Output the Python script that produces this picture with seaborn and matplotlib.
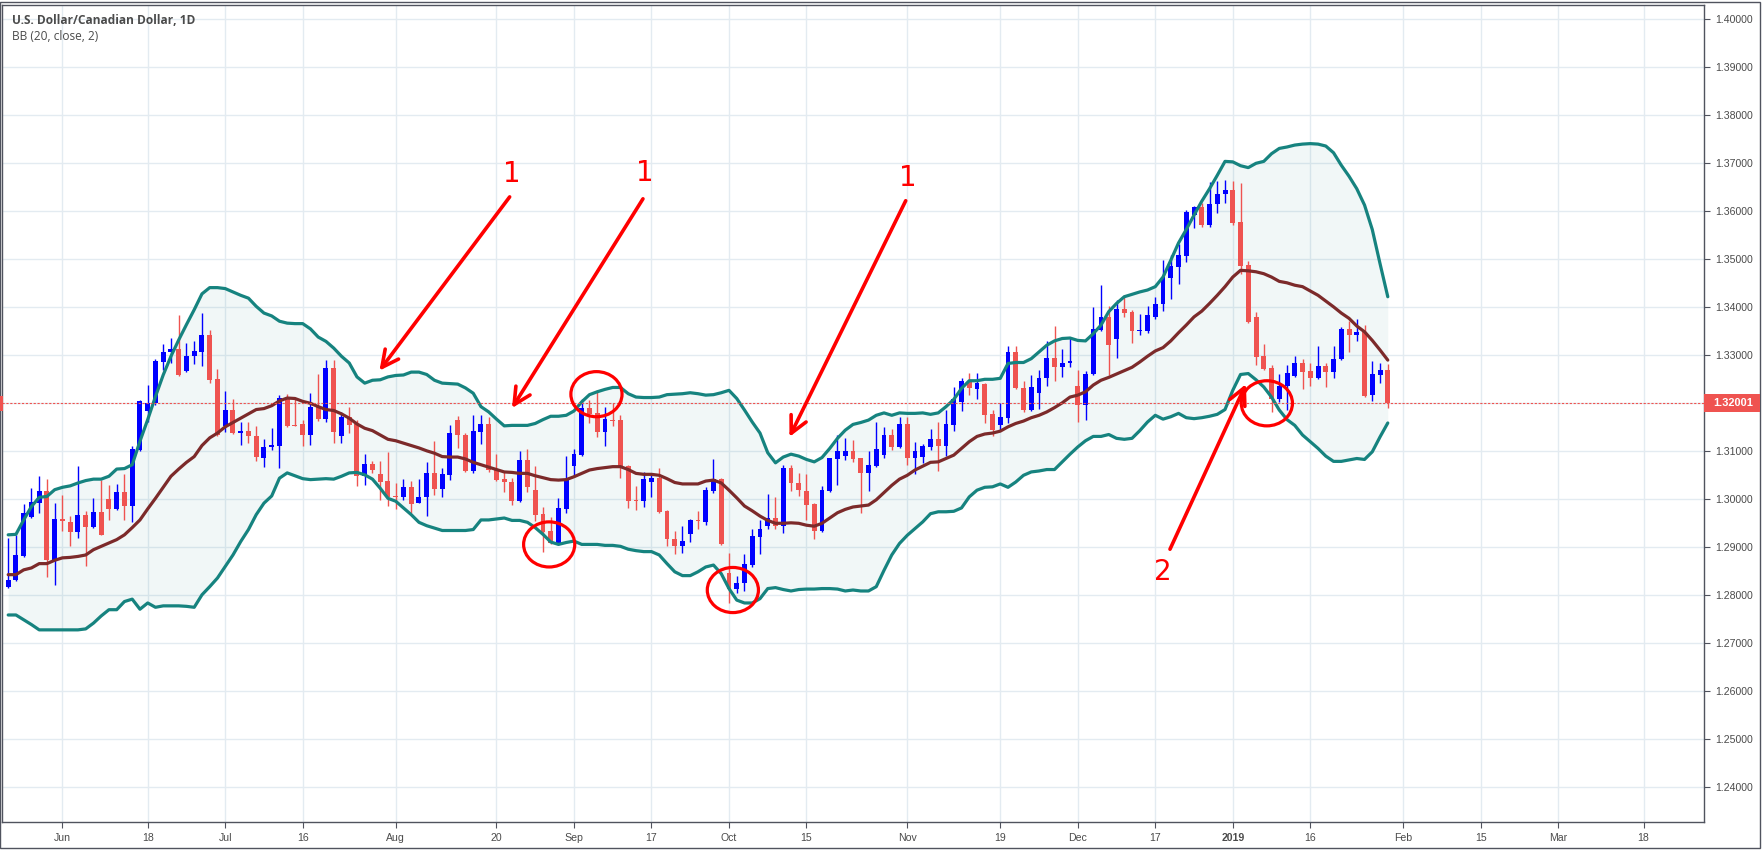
import numpy as np
import pandas as pd
import matplotlib
matplotlib.use("Agg")
import matplotlib.pyplot as plt
from matplotlib.patches import Ellipse, Rectangle
import seaborn as sns

# USD/CAD daily candles, 2018-05-23 .. 2019-01-30
opens = [
    1.2818, 1.2831, 1.2882, 1.2964, 1.2993, 1.3018, 1.2874, 1.2959, 1.2953, 1.2931,
    1.2968, 1.2943, 1.2974, 1.3000, 1.2980, 1.3016, 1.2987, 1.3103, 1.3185, 1.3200,
    1.3287, 1.3306, 1.3313, 1.3268, 1.3298, 1.3307, 1.3343, 1.3251, 1.3152, 1.3187,
    1.3139, 1.3143, 1.3132, 1.3087, 1.3109, 1.3112, 1.3211, 1.3155, 1.3157, 1.3133,
    1.3193, 1.3168, 1.3273, 1.3131, 1.3171, 1.3157, 1.3048, 1.3074, 1.3053, 1.3039,
    1.3007, 1.3005, 1.3025, 1.2993, 1.3004, 1.3055, 1.3022, 1.3051, 1.3166, 1.3134,
    1.3059, 1.3141, 1.3157, 1.3062, 1.3043, 1.3036, 1.2997, 1.3081, 1.3019, 1.2969,
    1.2934, 1.2906, 1.2979, 1.3070, 1.3092, 1.3191, 1.3179, 1.3141, 1.3166, 1.3165,
    1.3069, 1.2999, 1.2997, 1.3036, 1.3045, 1.2975, 1.2918, 1.2903, 1.2927, 1.2957,
    1.2953, 1.3018, 1.3042, 1.2847, 1.2813, 1.2825, 1.2863, 1.2922, 1.2944, 1.2962,
    1.2944, 1.3066, 1.3034, 1.3017, 1.2990, 1.2934, 1.3018, 1.3084, 1.3091, 1.3100,
    1.3085, 1.3055, 1.3070, 1.3093, 1.3134, 1.3109, 1.3157, 1.3086, 1.3088, 1.3109,
    1.3125, 1.3111, 1.3154, 1.3202, 1.3246, 1.3229, 1.3241, 1.3177, 1.3154, 1.3170,
    1.3307, 1.3232, 1.3186, 1.3222, 1.3252, 1.3295, 1.3275, 1.3283, 1.3236, 1.3197,
    1.3261, 1.3352, 1.3380, 1.3333, 1.3397, 1.3390, 1.3351, 1.3351, 1.3379, 1.3406,
    1.3461, 1.3484, 1.3507, 1.3592, 1.3609, 1.3571, 1.3616, 1.3637, 1.3645, 1.3577,
    1.3488, 1.3379, 1.3298, 1.3274, 1.3210, 1.3236, 1.3257, 1.3285, 1.3267, 1.3252,
    1.3277, 1.3266, 1.3292, 1.3354, 1.3343, 1.3349, 1.3218, 1.3260, 1.3269,
]
highs = [
    1.2919, 1.2926, 1.2991, 1.3023, 1.3049, 1.3042, 1.2992, 1.3009, 1.2966, 1.3070,
    1.2976, 1.3002, 1.3041, 1.3030, 1.3032, 1.3053, 1.3112, 1.3207, 1.3239, 1.3293,
    1.3324, 1.3336, 1.3384, 1.3326, 1.3329, 1.3388, 1.3353, 1.3272, 1.3226, 1.3209,
    1.3162, 1.3160, 1.3153, 1.3126, 1.3148, 1.3218, 1.3220, 1.3211, 1.3166, 1.3221,
    1.3262, 1.3291, 1.3291, 1.3181, 1.3192, 1.3166, 1.3095, 1.3080, 1.3080, 1.3098,
    1.3034, 1.3042, 1.3039, 1.3042, 1.3077, 1.3122, 1.3065, 1.3155, 1.3174, 1.3138,
    1.3176, 1.3176, 1.3172, 1.3095, 1.3058, 1.3045, 1.3100, 1.3104, 1.3069, 1.2983,
    1.2963, 1.3003, 1.3090, 1.3104, 1.3208, 1.3206, 1.3227, 1.3193, 1.3200, 1.3175,
    1.3071, 1.3027, 1.3056, 1.3050, 1.3066, 1.2977, 1.2934, 1.2944, 1.2958, 1.2975,
    1.3026, 1.3084, 1.3045, 1.2889, 1.2840, 1.2885, 1.2939, 1.2957, 1.3012, 1.3005,
    1.3071, 1.3072, 1.3054, 1.3052, 1.2992, 1.3027, 1.3087, 1.3134, 1.3127, 1.3123,
    1.3087, 1.3100, 1.3160, 1.3151, 1.3147, 1.3172, 1.3172, 1.3120, 1.3116, 1.3146,
    1.3160, 1.3186, 1.3234, 1.3252, 1.3264, 1.3264, 1.3243, 1.3187, 1.3201, 1.3319,
    1.3319, 1.3246, 1.3259, 1.3269, 1.3330, 1.3361, 1.3313, 1.3336, 1.3269, 1.3267,
    1.3401, 1.3446, 1.3402, 1.3416, 1.3425, 1.3395, 1.3386, 1.3402, 1.3422, 1.3498,
    1.3509, 1.3531, 1.3602, 1.3611, 1.3618, 1.3661, 1.3663, 1.3665, 1.3663, 1.3658,
    1.3496, 1.3391, 1.3323, 1.3279, 1.3261, 1.3279, 1.3298, 1.3293, 1.3285, 1.3319,
    1.3285, 1.3319, 1.3359, 1.3372, 1.3375, 1.3363, 1.3288, 1.3285, 1.3281,
]
lows = [
    1.2816, 1.2829, 1.2880, 1.2962, 1.2971, 1.2839, 1.2822, 1.2933, 1.2903, 1.2919,
    1.2860, 1.2940, 1.2925, 1.2957, 1.2978, 1.2957, 1.2952, 1.3100, 1.3162, 1.3197,
    1.3270, 1.3285, 1.3257, 1.3266, 1.3282, 1.3278, 1.3243, 1.3131, 1.3140, 1.3136,
    1.3114, 1.3118, 1.3079, 1.3068, 1.3103, 1.3066, 1.3150, 1.3152, 1.3112, 1.3114,
    1.3164, 1.3162, 1.3118, 1.3118, 1.3139, 1.3027, 1.3029, 1.3055, 1.2998, 1.2985,
    1.2980, 1.2998, 1.2971, 1.2992, 1.2966, 1.3009, 1.3004, 1.3041, 1.3107, 1.3057,
    1.3055, 1.3116, 1.3056, 1.3039, 1.3016, 1.2988, 1.2995, 1.3016, 1.2955, 1.2891,
    1.2906, 1.2904, 1.2972, 1.3047, 1.3090, 1.3159, 1.3130, 1.3111, 1.3153, 1.3045,
    1.2982, 1.2977, 1.2984, 1.3005, 1.2972, 1.2902, 1.2886, 1.2888, 1.2911, 1.2939,
    1.2946, 1.3014, 1.2904, 1.2784, 1.2804, 1.2809, 1.2859, 1.2887, 1.2939, 1.2939,
    1.2930, 1.3018, 1.3007, 1.2956, 1.2918, 1.2932, 1.3016, 1.3029, 1.3082, 1.3078,
    1.2972, 1.3018, 1.3068, 1.3085, 1.3102, 1.3107, 1.3072, 1.3052, 1.3075, 1.3102,
    1.3059, 1.3090, 1.3143, 1.3184, 1.3217, 1.3210, 1.3158, 1.3131, 1.3142, 1.3158,
    1.3229, 1.3182, 1.3184, 1.3189, 1.3236, 1.3247, 1.3255, 1.3275, 1.3161, 1.3166,
    1.3259, 1.3350, 1.3259, 1.3295, 1.3380, 1.3325, 1.3342, 1.3347, 1.3375, 1.3393,
    1.3418, 1.3448, 1.3495, 1.3566, 1.3568, 1.3568, 1.3597, 1.3618, 1.3571, 1.3470,
    1.3368, 1.3279, 1.3269, 1.3182, 1.3203, 1.3186, 1.3255, 1.3229, 1.3236, 1.3250,
    1.3234, 1.3253, 1.3290, 1.3307, 1.3330, 1.3214, 1.3205, 1.3243, 1.3191,
]
closes = [
    1.2832, 1.2884, 1.2971, 1.2995, 1.3018, 1.2874, 1.2959, 1.2954, 1.2931, 1.2968,
    1.2943, 1.2974, 1.2926, 1.2980, 1.3016, 1.2987, 1.3105, 1.3204, 1.3200, 1.3289,
    1.3307, 1.3313, 1.3259, 1.3299, 1.3309, 1.3343, 1.3249, 1.3133, 1.3187, 1.3139,
    1.3143, 1.3131, 1.3089, 1.3109, 1.3114, 1.3211, 1.3153, 1.3153, 1.3133, 1.3193,
    1.3168, 1.3273, 1.3141, 1.3171, 1.3154, 1.3048, 1.3074, 1.3060, 1.3037, 1.3005,
    1.3004, 1.3025, 1.2991, 1.3005, 1.3055, 1.3022, 1.3053, 1.3138, 1.3133, 1.3059,
    1.3143, 1.3157, 1.3062, 1.3041, 1.3035, 1.2997, 1.3081, 1.3026, 1.2967, 1.2932,
    1.2908, 1.2981, 1.3043, 1.3094, 1.3191, 1.3177, 1.3141, 1.3167, 1.3163, 1.3068,
    1.2997, 1.2997, 1.3042, 1.3045, 1.2974, 1.2918, 1.2903, 1.2913, 1.2957, 1.2954,
    1.3019, 1.3042, 1.2906, 1.2813, 1.2825, 1.2865, 1.2923, 1.2939, 1.2962, 1.2944,
    1.3066, 1.3033, 1.3019, 1.2988, 1.2934, 1.3019, 1.3085, 1.3100, 1.3100, 1.3084,
    1.3055, 1.3071, 1.3104, 1.3134, 1.3109, 1.3157, 1.3086, 1.3100, 1.3111, 1.3125,
    1.3111, 1.3157, 1.3208, 1.3246, 1.3231, 1.3243, 1.3175, 1.3145, 1.3172, 1.3306,
    1.3231, 1.3186, 1.3234, 1.3252, 1.3295, 1.3275, 1.3283, 1.3288, 1.3197, 1.3262,
    1.3354, 1.3380, 1.3322, 1.3397, 1.3388, 1.3351, 1.3352, 1.3384, 1.3406, 1.3463,
    1.3486, 1.3509, 1.3599, 1.3609, 1.3571, 1.3616, 1.3637, 1.3645, 1.3576, 1.3486,
    1.3370, 1.3297, 1.3271, 1.3210, 1.3236, 1.3264, 1.3285, 1.3266, 1.3252, 1.3277,
    1.3266, 1.3293, 1.3354, 1.3343, 1.3349, 1.3216, 1.3261, 1.3269, 1.3200,
]

# Bollinger bands (20, close, 2) as drawn on the chart
bbUpper = [
    1.2926, 1.2927, 1.2957, 1.2985, 1.3004, 1.3006, 1.3020, 1.3025, 1.3028, 1.3034,
    1.3039, 1.3042, 1.3042, 1.3048, 1.3063, 1.3064, 1.3072, 1.3121, 1.3166, 1.3214,
    1.3259, 1.3298, 1.3332, 1.3364, 1.3395, 1.3428, 1.3441, 1.3441, 1.3439, 1.3432,
    1.3425, 1.3419, 1.3402, 1.3388, 1.3382, 1.3371, 1.3367, 1.3366, 1.3366, 1.3355,
    1.3338, 1.3329, 1.3315, 1.3298, 1.3284, 1.3255, 1.3242, 1.3248, 1.3249, 1.3255,
    1.3258, 1.3259, 1.3265, 1.3265, 1.3260, 1.3248, 1.3242, 1.3241, 1.3240, 1.3232,
    1.3221, 1.3193, 1.3182, 1.3167, 1.3153, 1.3154, 1.3154, 1.3154, 1.3158, 1.3166,
    1.3173, 1.3173, 1.3175, 1.3184, 1.3203, 1.3218, 1.3224, 1.3229, 1.3233, 1.3233,
    1.3220, 1.3213, 1.3212, 1.3212, 1.3213, 1.3218, 1.3219, 1.3220, 1.3222, 1.3220,
    1.3217, 1.3218, 1.3222, 1.3227, 1.3210, 1.3186, 1.3161, 1.3138, 1.3097, 1.3076,
    1.3088, 1.3094, 1.3090, 1.3083, 1.3078, 1.3087, 1.3106, 1.3127, 1.3144, 1.3156,
    1.3160, 1.3165, 1.3175, 1.3180, 1.3175, 1.3180, 1.3179, 1.3179, 1.3180, 1.3177,
    1.3180, 1.3193, 1.3208, 1.3231, 1.3247, 1.3247, 1.3250, 1.3250, 1.3252, 1.3283,
    1.3285, 1.3285, 1.3293, 1.3307, 1.3321, 1.3330, 1.3335, 1.3336, 1.3331, 1.3330,
    1.3345, 1.3363, 1.3391, 1.3408, 1.3422, 1.3427, 1.3432, 1.3436, 1.3443, 1.3463,
    1.3498, 1.3534, 1.3562, 1.3592, 1.3621, 1.3647, 1.3675, 1.3704, 1.3703, 1.3695,
    1.3691, 1.3700, 1.3704, 1.3720, 1.3731, 1.3734, 1.3738, 1.3740, 1.3741, 1.3740,
    1.3736, 1.3722, 1.3696, 1.3673, 1.3647, 1.3613, 1.3562, 1.3491, 1.3422,
]
bbMiddle = [
    1.2843, 1.2843, 1.2853, 1.2857, 1.2866, 1.2866, 1.2873, 1.2878, 1.2879, 1.2881,
    1.2884, 1.2895, 1.2902, 1.2909, 1.2916, 1.2926, 1.2941, 1.2957, 1.2980, 1.3002,
    1.3025, 1.3048, 1.3063, 1.3077, 1.3089, 1.3112, 1.3128, 1.3138, 1.3151, 1.3160,
    1.3169, 1.3178, 1.3187, 1.3189, 1.3195, 1.3205, 1.3211, 1.3210, 1.3204, 1.3200,
    1.3193, 1.3187, 1.3185, 1.3178, 1.3169, 1.3157, 1.3148, 1.3143, 1.3134, 1.3125,
    1.3122, 1.3117, 1.3112, 1.3107, 1.3101, 1.3096, 1.3089, 1.3088, 1.3088, 1.3084,
    1.3077, 1.3072, 1.3067, 1.3062, 1.3057, 1.3056, 1.3054, 1.3054, 1.3049, 1.3045,
    1.3041, 1.3040, 1.3041, 1.3047, 1.3054, 1.3061, 1.3064, 1.3066, 1.3068, 1.3068,
    1.3062, 1.3054, 1.3052, 1.3052, 1.3050, 1.3043, 1.3035, 1.3032, 1.3032, 1.3032,
    1.3038, 1.3040, 1.3034, 1.3019, 1.3003, 1.2986, 1.2976, 1.2965, 1.2956, 1.2950,
    1.2950, 1.2951, 1.2950, 1.2946, 1.2944, 1.2950, 1.2961, 1.2972, 1.2979, 1.2984,
    1.2986, 1.2988, 1.2999, 1.3014, 1.3029, 1.3042, 1.3050, 1.3061, 1.3069, 1.3077,
    1.3078, 1.3085, 1.3092, 1.3106, 1.3120, 1.3131, 1.3136, 1.3138, 1.3142, 1.3151,
    1.3158, 1.3163, 1.3170, 1.3175, 1.3182, 1.3191, 1.3201, 1.3213, 1.3217, 1.3224,
    1.3238, 1.3248, 1.3254, 1.3261, 1.3268, 1.3275, 1.3286, 1.3298, 1.3309, 1.3316,
    1.3330, 1.3347, 1.3363, 1.3380, 1.3392, 1.3408, 1.3425, 1.3443, 1.3463, 1.3477,
    1.3476, 1.3474, 1.3470, 1.3463, 1.3454, 1.3451, 1.3446, 1.3443, 1.3434, 1.3425,
    1.3413, 1.3401, 1.3388, 1.3377, 1.3361, 1.3349, 1.3331, 1.3311, 1.3290,
]
bbLower = [
    1.2759, 1.2759, 1.2749, 1.2739, 1.2728, 1.2728, 1.2728, 1.2728, 1.2728, 1.2728,
    1.2730, 1.2742, 1.2757, 1.2770, 1.2770, 1.2787, 1.2792, 1.2771, 1.2784, 1.2775,
    1.2778, 1.2778, 1.2778, 1.2777, 1.2775, 1.2801, 1.2818, 1.2836, 1.2860, 1.2884,
    1.2912, 1.2937, 1.2968, 1.2992, 1.3007, 1.3044, 1.3055, 1.3049, 1.3043, 1.3041,
    1.3042, 1.3043, 1.3042, 1.3048, 1.3055, 1.3056, 1.3051, 1.3042, 1.3023, 1.3002,
    1.2996, 1.2982, 1.2968, 1.2952, 1.2945, 1.2940, 1.2935, 1.2935, 1.2935, 1.2935,
    1.2937, 1.2957, 1.2957, 1.2959, 1.2961, 1.2956, 1.2956, 1.2952, 1.2941, 1.2927,
    1.2911, 1.2906, 1.2910, 1.2913, 1.2906, 1.2906, 1.2906, 1.2904, 1.2904, 1.2902,
    1.2896, 1.2893, 1.2891, 1.2891, 1.2884, 1.2866, 1.2849, 1.2841, 1.2841, 1.2849,
    1.2859, 1.2863, 1.2845, 1.2814, 1.2790, 1.2784, 1.2784, 1.2793, 1.2814, 1.2816,
    1.2812, 1.2809, 1.2812, 1.2813, 1.2813, 1.2814, 1.2814, 1.2813, 1.2809, 1.2811,
    1.2809, 1.2809, 1.2818, 1.2852, 1.2884, 1.2908, 1.2925, 1.2939, 1.2953, 1.2970,
    1.2974, 1.2974, 1.2975, 1.2982, 1.3005, 1.3019, 1.3025, 1.3026, 1.3032, 1.3025,
    1.3036, 1.3050, 1.3057, 1.3059, 1.3062, 1.3062, 1.3078, 1.3094, 1.3109, 1.3122,
    1.3131, 1.3131, 1.3135, 1.3127, 1.3125, 1.3127, 1.3143, 1.3161, 1.3175, 1.3167,
    1.3172, 1.3179, 1.3170, 1.3168, 1.3170, 1.3173, 1.3177, 1.3187, 1.3227, 1.3260,
    1.3262, 1.3249, 1.3234, 1.3213, 1.3186, 1.3166, 1.3154, 1.3134, 1.3120, 1.3106,
    1.3090, 1.3079, 1.3079, 1.3082, 1.3085, 1.3083, 1.3099, 1.3130, 1.3159,
]

lastPrice = 1.32001
tickDates = ['2018-06-01', '2018-06-18', '2018-07-02', '2018-07-16', '2018-08-01',
             '2018-08-20', '2018-09-03', '2018-09-17', '2018-10-01', '2018-10-15',
             '2018-11-01', '2018-11-19', '2018-12-03', '2018-12-17', '2019-01-02',
             '2019-01-16', '2019-02-01', '2019-02-15', '2019-03-01', '2019-03-18']
tickLabels = ['Jun', '18', 'Jul', '16', 'Aug', '20', 'Sep', '17', 'Oct', '15',
              'Nov', '19', 'Dec', '17', '2019', '16', 'Feb', '15', 'Mar', '18']
priceTicks = [1.24, 1.25, 1.26, 1.27, 1.28, 1.29, 1.30, 1.31, 1.32, 1.33,
              1.34, 1.35, 1.36, 1.37, 1.38, 1.39, 1.40]

# trading calendar (weekdays, no bar on Christmas / New Year)
barDates = pd.bdate_range('2018-05-23', '2019-03-29').drop(
    pd.to_datetime(['2018-12-25', '2019-01-01']))
tickPos = barDates.get_indexer(pd.to_datetime(tickDates))

o = np.array(opens)
h = np.array(highs)
l = np.array(lows)
c = np.array(closes)
x = np.arange(len(c))

upColor = '#0000ff'
downColor = '#ef5350'
bandColor = '#16837f'
midColor = '#7c2a2a'
textColor = '#4b4b4b'
frameColor = '#50535e'

sns.set_style("white")
plt.rcParams['font.family'] = ['Liberation Sans', 'DejaVu Sans']

fig = plt.figure(figsize=(17.65, 8.5), dpi=100)
W, H = 1765.0, 850.0
ax = fig.add_axes([2 / W, 1 - 822 / H, (1704 - 2) / W, (822 - 5) / H])

# grid
for p in priceTicks:
    ax.axhline(p, color='#e3ebf1', lw=1.0, zorder=0)
for tp in tickPos:
    ax.axvline(tp, color='#e3ebf1', lw=1.0, zorder=0)

# bands
ax.fill_between(x, bbLower, bbUpper, color=bandColor, alpha=0.06, lw=0, zorder=1)
bandDf = pd.DataFrame({'x': x, 'upper': bbUpper, 'middle': bbMiddle, 'lower': bbLower})
sns.lineplot(data=bandDf, x='x', y='upper', ax=ax, color=bandColor, lw=2.3,
             estimator=None, sort=False, zorder=4)
sns.lineplot(data=bandDf, x='x', y='lower', ax=ax, color=bandColor, lw=2.3,
             estimator=None, sort=False, zorder=4)
sns.lineplot(data=bandDf, x='x', y='middle', ax=ax, color=midColor, lw=2.3,
             estimator=None, sort=False, zorder=4)

# candles
colors = np.where(c >= o, upColor, downColor)
ax.vlines(x, l, h, colors=colors, lw=1.0, zorder=2)
bodyLow = np.minimum(o, c)
bodyH = np.maximum(np.abs(c - o), 0.00008)
ax.bar(x, bodyH, bottom=bodyLow, width=0.64, color=colors, lw=0, zorder=3)

# last price line
ax.axhline(lastPrice, color=downColor, lw=0.8, ls=(0, (2, 1.5)), zorder=5)

# axes
ax.set_xlim(-0.8, 218.8)
ax.set_ylim(1.23277, 1.40298)
ax.yaxis.tick_right()
ax.set_yticks(priceTicks)
ax.set_yticklabels(['' if abs(p - 1.32) < 1e-9 else f'{p:.5f}' for p in priceTicks])
ax.set_xticks(tickPos)
ax.set_xticklabels(tickLabels)
for lab in ax.get_xticklabels():
    if lab.get_text() == '2019':
        lab.set_fontweight('bold')
ax.tick_params(axis='y', right=True, length=4, width=0.8, color=frameColor, pad=4,
               labelsize=7.6, labelcolor=textColor)
ax.tick_params(axis='x', bottom=True, length=4, width=0.8, color=frameColor, pad=4,
               labelsize=7.6, labelcolor=textColor)
ax.set_xlabel('')
ax.set_ylabel('')
for s in ax.spines.values():
    s.set_visible(True)
    s.set_color(frameColor)
    s.set_linewidth(1.0)

# price tags on both edges
tagY = ax.transData.transform((0, lastPrice))[1] / H
fig.patches.append(Rectangle((1704 / W, tagY - 9 / H), 56 / W, 18 / H,
                             transform=fig.transFigure, fc=downColor, ec='none', zorder=10))
fig.text(1713 / W, tagY, '1.32001', ha='left', va='center', color='white',
         fontsize=7.9, fontweight='bold', zorder=11)
fig.patches.append(Rectangle((0, tagY - 7.5 / H), 2.5 / W, 15 / H, transform=fig.transFigure,
                             fc=downColor, ec='none', zorder=10))

# outer frame
fig.patches.append(Rectangle((0.5 / W, 2 / H), 1760 / W, 846 / H, transform=fig.transFigure,
                             fill=False, ec=frameColor, lw=1.0))

# title
fig.text(12 / W, 1 - 20 / H, 'U.S. Dollar/Canadian Dollar, 1D', ha='left', va='center',
         fontsize=8.6, fontweight='bold', color=textColor, family=['Open Sans', 'DejaVu Sans'])
fig.text(12 / W, 1 - 36 / H, 'BB (20, close, 2)', ha='left', va='center',
         fontsize=8.6, color=textColor, family=['Open Sans', 'DejaVu Sans'])

# hand-drawn annotations
red = '#ff0000'
arrowKw = dict(arrowstyle='->', color=red, lw=2.6, mutation_scale=30, shrinkA=0, shrinkB=0)
arrows = [((64.7, 1.3630), (47.9, 1.3268)),
          ((81.9, 1.3626), (65.0, 1.3190)),
          ((115.8, 1.3622), (100.8, 1.3130)),
          ((149.9, 1.2896), (159.7, 1.3240))]
for start, tip in arrows:
    ax.annotate('', xy=tip, xytext=start, arrowprops=arrowKw, zorder=8)
for lx, ly, txt in [(65.0, 1.3678, '1'), (82.2, 1.3679, '1'), (116.1, 1.3669, '1'),
                    (149.0, 1.2849, '2')]:
    ax.text(lx, ly, txt, color=red, fontsize=20, ha='center', va='center',
            family=['DejaVu Sans'], zorder=8)
for ex, ey in [(75.9, 1.3219), (69.8, 1.2906), (93.5, 1.2811), (162.4, 1.3200)]:
    ax.add_patch(Ellipse((ex, ey), 6.6, 0.0094, fill=False, ec=red, lw=2.3, zorder=8))

fig.savefig('out.png', dpi=100)
